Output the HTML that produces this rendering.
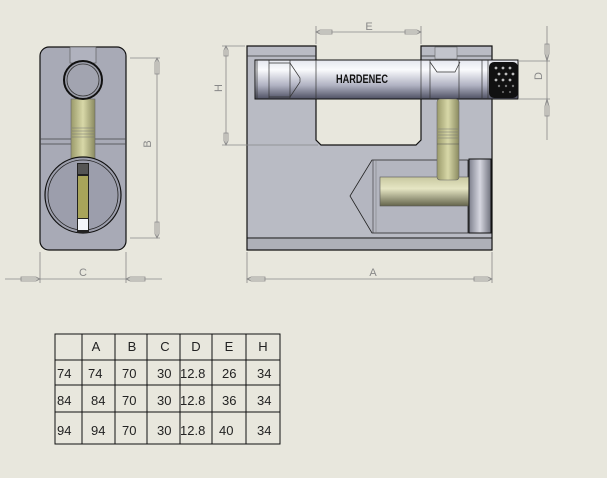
<!DOCTYPE html>
<html><head><meta charset="utf-8"><style>
html,body{margin:0;padding:0;background:#e8e7dd;}
svg{display:block;font-family:"Liberation Sans",sans-serif;}
</style></head><body>
<svg width="607" height="478" viewBox="0 0 607 478" xmlns="http://www.w3.org/2000/svg">
<defs>
<linearGradient id="bar" x1="0" y1="0" x2="0" y2="1">
<stop offset="0" stop-color="#e4e6ee"/><stop offset="0.25" stop-color="#fafbfd"/><stop offset="0.65" stop-color="#b0b2c2"/><stop offset="1" stop-color="#4e5062"/></linearGradient>
<linearGradient id="yel" x1="0" y1="0" x2="0" y2="1">
<stop offset="0" stop-color="#c8c8a0"/><stop offset="0.4" stop-color="#e6e6c4"/><stop offset="1" stop-color="#64644c"/></linearGradient>
<linearGradient id="yelv" x1="0" y1="0" x2="1" y2="0">
<stop offset="0" stop-color="#9a9a6a"/><stop offset="0.5" stop-color="#d8d8a8"/><stop offset="1" stop-color="#8a8a60"/></linearGradient>
<linearGradient id="cap" x1="0" y1="0" x2="1" y2="0">
<stop offset="0" stop-color="#7e808e"/><stop offset="0.5" stop-color="#d6d7e0"/><stop offset="1" stop-color="#70727e"/></linearGradient>
</defs>
<rect width="607" height="478" fill="#e8e7dd"/>

<!-- LEFT VIEW -->
<rect x="40" y="47" width="86" height="203" rx="9" fill="#a8aab6" stroke="#111" stroke-width="1.2"/>
<rect x="70" y="47" width="26" height="16" fill="#b0b2be" stroke="#555" stroke-width="0.6"/>
<line x1="40" y1="139" x2="126" y2="139" stroke="#444" stroke-width="0.7"/>
<line x1="40" y1="144" x2="126" y2="144" stroke="#444" stroke-width="0.7"/>
<rect x="71" y="99" width="24" height="62" fill="url(#yelv)" stroke="#666" stroke-width="0.6"/>
<g stroke="#777" stroke-width="0.6"><line x1="72" y1="128" x2="94" y2="128"/><line x1="72" y1="131" x2="94" y2="131"/><line x1="72" y1="134" x2="94" y2="134"/><line x1="72" y1="137" x2="94" y2="137"/></g>
<circle cx="83" cy="80" r="19" fill="#9c9eaa" stroke="#111" stroke-width="2"/>
<circle cx="83" cy="80" r="16" fill="#a2a4b0" stroke="#333" stroke-width="0.8"/>
<circle cx="83" cy="195" r="38" fill="#9c9eac" stroke="#111" stroke-width="1.2"/>
<circle cx="83" cy="195" r="35" fill="none" stroke="#222" stroke-width="0.8"/>
<rect x="77" y="163" width="12" height="70" fill="#222"/>
<rect x="78" y="164" width="10" height="10" fill="#555"/>
<rect x="78" y="176" width="10" height="42" fill="#a8a45a"/>
<rect x="78" y="219" width="10" height="11" fill="#f4f6fa"/>
<!-- B dim -->
<g stroke="#888" stroke-width="0.8" fill="none">
<line x1="130" y1="58" x2="160" y2="58"/><line x1="130" y1="238" x2="160" y2="238"/>
<line x1="157" y1="58" x2="157" y2="238"/>
<path d="M155 62 l2 -4 l2 4 v12 h-4z"/><path d="M155 234 l2 4 l2 -4 v-12 h-4z"/>
<!-- C dim -->
<line x1="40" y1="252" x2="40" y2="283"/><line x1="126" y1="252" x2="126" y2="283"/>
<line x1="5" y1="279" x2="162" y2="279"/>
<path d="M21 277 h15 l4 2 l-4 2 h-15z"/><path d="M145 277 h-15 l-4 2 l4 2 h15z"/>
</g>
<text x="151" y="144" font-size="11" fill="#888" transform="rotate(-90 151 144)" text-anchor="middle">B</text>
<text x="83" y="276" font-size="11" fill="#888" text-anchor="middle">C</text>

<!-- RIGHT VIEW -->
<path d="M247 46 H316 V140 L321 145 H416 L421 140 V46 H492 V250 H247 Z" fill="#b9bbc4" stroke="#111" stroke-width="1.2"/>
<line x1="247" y1="56" x2="316" y2="56" stroke="#333" stroke-width="0.7"/>
<line x1="421" y1="56" x2="492" y2="56" stroke="#333" stroke-width="0.7"/>
<rect x="435" y="47" width="22" height="12" fill="#c2c4cc" stroke="#666" stroke-width="0.6"/>
<line x1="247" y1="238" x2="492" y2="238" stroke="#111" stroke-width="1"/>
<rect x="248" y="239" width="243" height="10" fill="#aeb0b8"/>
<!-- shackle bar -->
<rect x="255" y="60" width="263" height="39" fill="url(#bar)" stroke="#111" stroke-width="1"/>
<g stroke="#333" stroke-width="0.7" fill="none">
<line x1="257" y1="60" x2="257" y2="99"/><line x1="269" y1="60" x2="269" y2="99"/>
<line x1="290" y1="60" x2="290" y2="99"/><line x1="316" y1="60" x2="316" y2="99"/>
<path d="M269 63 H290 L300 78 V82 L290 97 H269"/>
<line x1="421" y1="60" x2="421" y2="99"/><line x1="430" y1="60" x2="430" y2="99"/>
<path d="M430 62 L437 72 H455 L460 62"/><line x1="459" y1="60" x2="459" y2="99"/>
<line x1="482" y1="60" x2="482" y2="99"/><line x1="488" y1="60" x2="488" y2="99"/>
</g>
<rect x="489" y="62" width="29" height="36" rx="5" fill="#111"/>
<g fill="#bbb">
<circle cx="496" cy="68" r="1.4"/><circle cx="503" cy="68" r="1.4"/><circle cx="510" cy="68" r="1.4"/>
<circle cx="499" cy="74" r="1.4"/><circle cx="506" cy="74" r="1.4"/><circle cx="513" cy="74" r="1.4"/>
<circle cx="496" cy="80" r="1.4"/><circle cx="503" cy="80" r="1.4"/><circle cx="510" cy="80" r="1.4"/>
<circle cx="499" cy="86" r="1.2" fill="#777"/><circle cx="506" cy="86" r="1.2" fill="#777"/><circle cx="513" cy="86" r="1.2" fill="#777"/>
<circle cx="503" cy="92" r="1.1" fill="#666"/><circle cx="510" cy="92" r="1.1" fill="#666"/>
</g>
<text x="362" y="83" font-size="12" font-weight="bold" fill="#111" text-anchor="middle" textLength="52" lengthAdjust="spacingAndGlyphs">HARDENEC</text>
<!-- cylinder housing -->
<path d="M372 160 H468 V233 H372 L350 196 Z" fill="#b4b6c0" stroke="#222" stroke-width="0.8"/>
<line x1="373" y1="160" x2="373" y2="233" stroke="#333" stroke-width="0.6"/>
<line x1="376" y1="160" x2="376" y2="233" stroke="#777" stroke-width="0.5"/>
<rect x="380" y="177" width="89" height="29" fill="url(#yel)" stroke="#555" stroke-width="0.6"/>
<rect x="469" y="159" width="22" height="74" fill="url(#cap)" stroke="#111" stroke-width="1"/>
<!-- vertical pin -->
<rect x="437" y="99" width="22" height="81" rx="3" fill="url(#yelv)" stroke="#666" stroke-width="0.6"/>
<g stroke="#777" stroke-width="0.6"><line x1="438" y1="129" x2="458" y2="129"/><line x1="438" y1="132" x2="458" y2="132"/><line x1="438" y1="135" x2="458" y2="135"/><line x1="438" y1="138" x2="458" y2="138"/></g>
<line x1="437" y1="144" x2="459" y2="144" stroke="#555" stroke-width="0.6"/>

<!-- dims right -->
<g stroke="#888" stroke-width="0.8" fill="none">
<line x1="316" y1="26" x2="316" y2="44"/><line x1="421" y1="26" x2="421" y2="44"/>
<line x1="316" y1="32" x2="421" y2="32"/>
<path d="M320 30 h12 v4 h-12 l-4 -2z"/><path d="M417 30 h-12 v4 h12 l4 -2z"/>
<line x1="222" y1="46" x2="245" y2="46"/><line x1="222" y1="145" x2="318" y2="145"/>
<line x1="226" y1="46" x2="226" y2="145"/>
<path d="M224 50 l2 -4 l2 4 v6 h-4z"/><path d="M224 141 l2 4 l2 -4 v-8 h-4z"/>
<line x1="518" y1="61" x2="550" y2="61"/><line x1="518" y1="99" x2="550" y2="99"/>
<line x1="547" y1="26" x2="547" y2="140"/>
<path d="M545 44 h4 v10 l-2 7 l-2 -7z"/><path d="M545 116 h4 v-10 l-2 -7 l-2 7z"/>
<line x1="247" y1="252" x2="247" y2="283"/><line x1="492" y1="252" x2="492" y2="283"/>
<line x1="247" y1="279" x2="492" y2="279"/>
<path d="M251 277 h14 v4 h-14 l-4 -2z"/><path d="M488 277 h-14 v4 h14 l4 -2z"/>
</g>
<text x="369" y="30" font-size="11" fill="#888" text-anchor="middle">E</text>
<text x="222" y="88" font-size="11" fill="#888" text-anchor="middle" transform="rotate(-90 222 88)">H</text>
<text x="542" y="76" font-size="11" fill="#888" text-anchor="middle" transform="rotate(-90 542 76)">D</text>
<text x="373" y="276" font-size="11" fill="#888" text-anchor="middle">A</text>

<!-- TABLE -->
<g stroke="#111" stroke-width="1" fill="none">
<rect x="55" y="334" width="225" height="110"/>
<line x1="82" y1="334" x2="82" y2="444"/><line x1="115" y1="334" x2="115" y2="444"/>
<line x1="147" y1="334" x2="147" y2="444"/><line x1="180" y1="334" x2="180" y2="444"/>
<line x1="212" y1="334" x2="212" y2="444"/><line x1="246" y1="334" x2="246" y2="444"/>
<line x1="55" y1="360" x2="280" y2="360"/><line x1="55" y1="385" x2="280" y2="385"/>
<line x1="55" y1="412" x2="280" y2="412"/>
</g>
<g font-size="13" fill="#222">
<text x="96" y="351" text-anchor="middle">A</text><text x="132" y="351" text-anchor="middle">B</text>
<text x="165" y="351" text-anchor="middle">C</text><text x="196" y="351" text-anchor="middle">D</text>
<text x="229" y="351" text-anchor="middle">E</text><text x="263" y="351" text-anchor="middle">H</text>
<text x="57" y="378">74</text><text x="88" y="378">74</text><text x="122" y="378">70</text><text x="157" y="378">30</text><text x="180" y="378">12.8</text><text x="222" y="378">26</text><text x="257" y="378">34</text>
<text x="57" y="405">84</text><text x="91" y="405">84</text><text x="122" y="405">70</text><text x="157" y="405">30</text><text x="180" y="405">12.8</text><text x="222" y="405">36</text><text x="257" y="405">34</text>
<text x="57" y="435">94</text><text x="91" y="435">94</text><text x="122" y="435">70</text><text x="157" y="435">30</text><text x="180" y="435">12.8</text><text x="219" y="435">40</text><text x="257" y="435">34</text>
</g>
</svg>
</body></html>
